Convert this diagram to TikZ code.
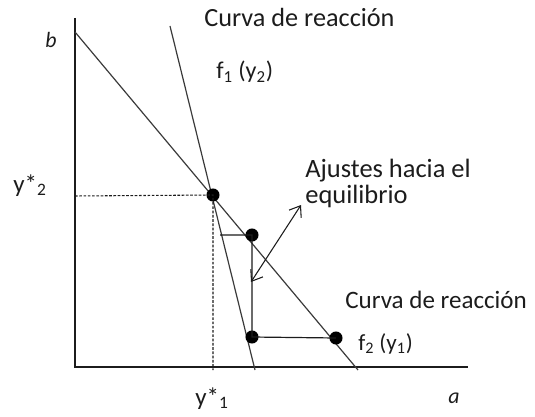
\documentclass[tikz,border=0pt]{standalone}
\usepackage{fontspec}
\setmainfont{Carlito}
\usetikzlibrary{arrows.meta,positioning,calc}
\definecolor{ink}{HTML}{1C1C1C}
\definecolor{line}{HTML}{3A3A3A}
\tikzset{
  axis/.style   = {line width=1pt, draw=ink},
  curve/.style  = {line width=0.9pt, draw=line},
  stair/.style  = {line width=0.9pt, draw=ink},
  guide/.style  = {line width=0.8pt, draw=ink, dash pattern=on 2pt off 1.2pt},
  dotpt/.style  = {circle, fill=black, inner sep=0pt, minimum size=9.8pt},
  adjust/.style = {{Straight Barb[length=2.6mm,width=3.8mm]}-{Straight Barb[length=2.6mm,width=3.8mm]}, line width=0.8pt, draw=ink},
  lbl/.style    = {font=\fontsize{16.4}{19}\selectfont, text=ink, anchor=base west, inner sep=0pt},
  lblx/.style   = {lbl, scale=#1, transform shape}
}

\begin{document}
\begin{tikzpicture}[x=0.75pt,y=-0.75pt]
    \useasboundingbox (0,0) rectangle (535,417);
    % axes
    \coordinate (top) at (75,18);
    \coordinate (origin) at (75,367);
    \coordinate (right) at (468,367);
    \draw[axis] (top) -- (origin) -- (right);
    % reaction curves
    \coordinate (f2a) at (75,32);
    \coordinate (f2b) at (358,370);
    \coordinate (f1a) at (170,26);
    \coordinate (f1b) at (255,370);
    \draw[curve] (f2a) -- (f2b);
    \draw[curve] (f1a) -- (f1b);
    % equilibrium and adjustment points
    \node[dotpt] (eq) at (213,195) {};
    \node[dotpt] (p1) at (252,235) {};
    \node[dotpt] (p2) at (252,337) {};
    \node[dotpt] (p3) at (336,338) {};
    \coordinate (ylev) at (75,196);
    \coordinate (xlev) at (213,370);
    \draw[guide] (ylev) -- (eq.center) -- (xlev);
    \coordinate (s0) at (220,235);
    \draw[stair] (s0) -- (p1.center) -- (p2.center) -- (p3.center);
    \coordinate (adjlo) at (251,282);
    \coordinate (adjhi) at (301,205);
    \draw[adjust] (adjlo) -- (adjhi);
    % labels
    \node[lbl] (lb) at (45,48) {\textit{b}};
    \node[lbl] (la) at (448,403) {\textit{a}};
    \node[lblx=1.14] (ly2) at (13,192) {y*\textsubscript{2}};
    \node[lblx=1.14] (ly1) at (195,405) {y*\textsubscript{1}};
    \node[lblx=1.2] (c1) at (204,27) {Curva de reacción};
    \node[lblx=1.1] (f1) at (216,79) {f\textsubscript{1} (y\textsubscript{2})};
    \node[lblx=1.21] (aj) at (305,177) {Ajustes hacia el};
    \node[lblx=1.21] (eqb) at (305,204) {equilibrio};
    \node[lblx=1.145] (c2) at (345,308) {Curva de reacción};
    \node[lblx=1.055] (f2) at (358,350) {f\textsubscript{2} (y\textsubscript{1})};
\end{tikzpicture}
\end{document}
